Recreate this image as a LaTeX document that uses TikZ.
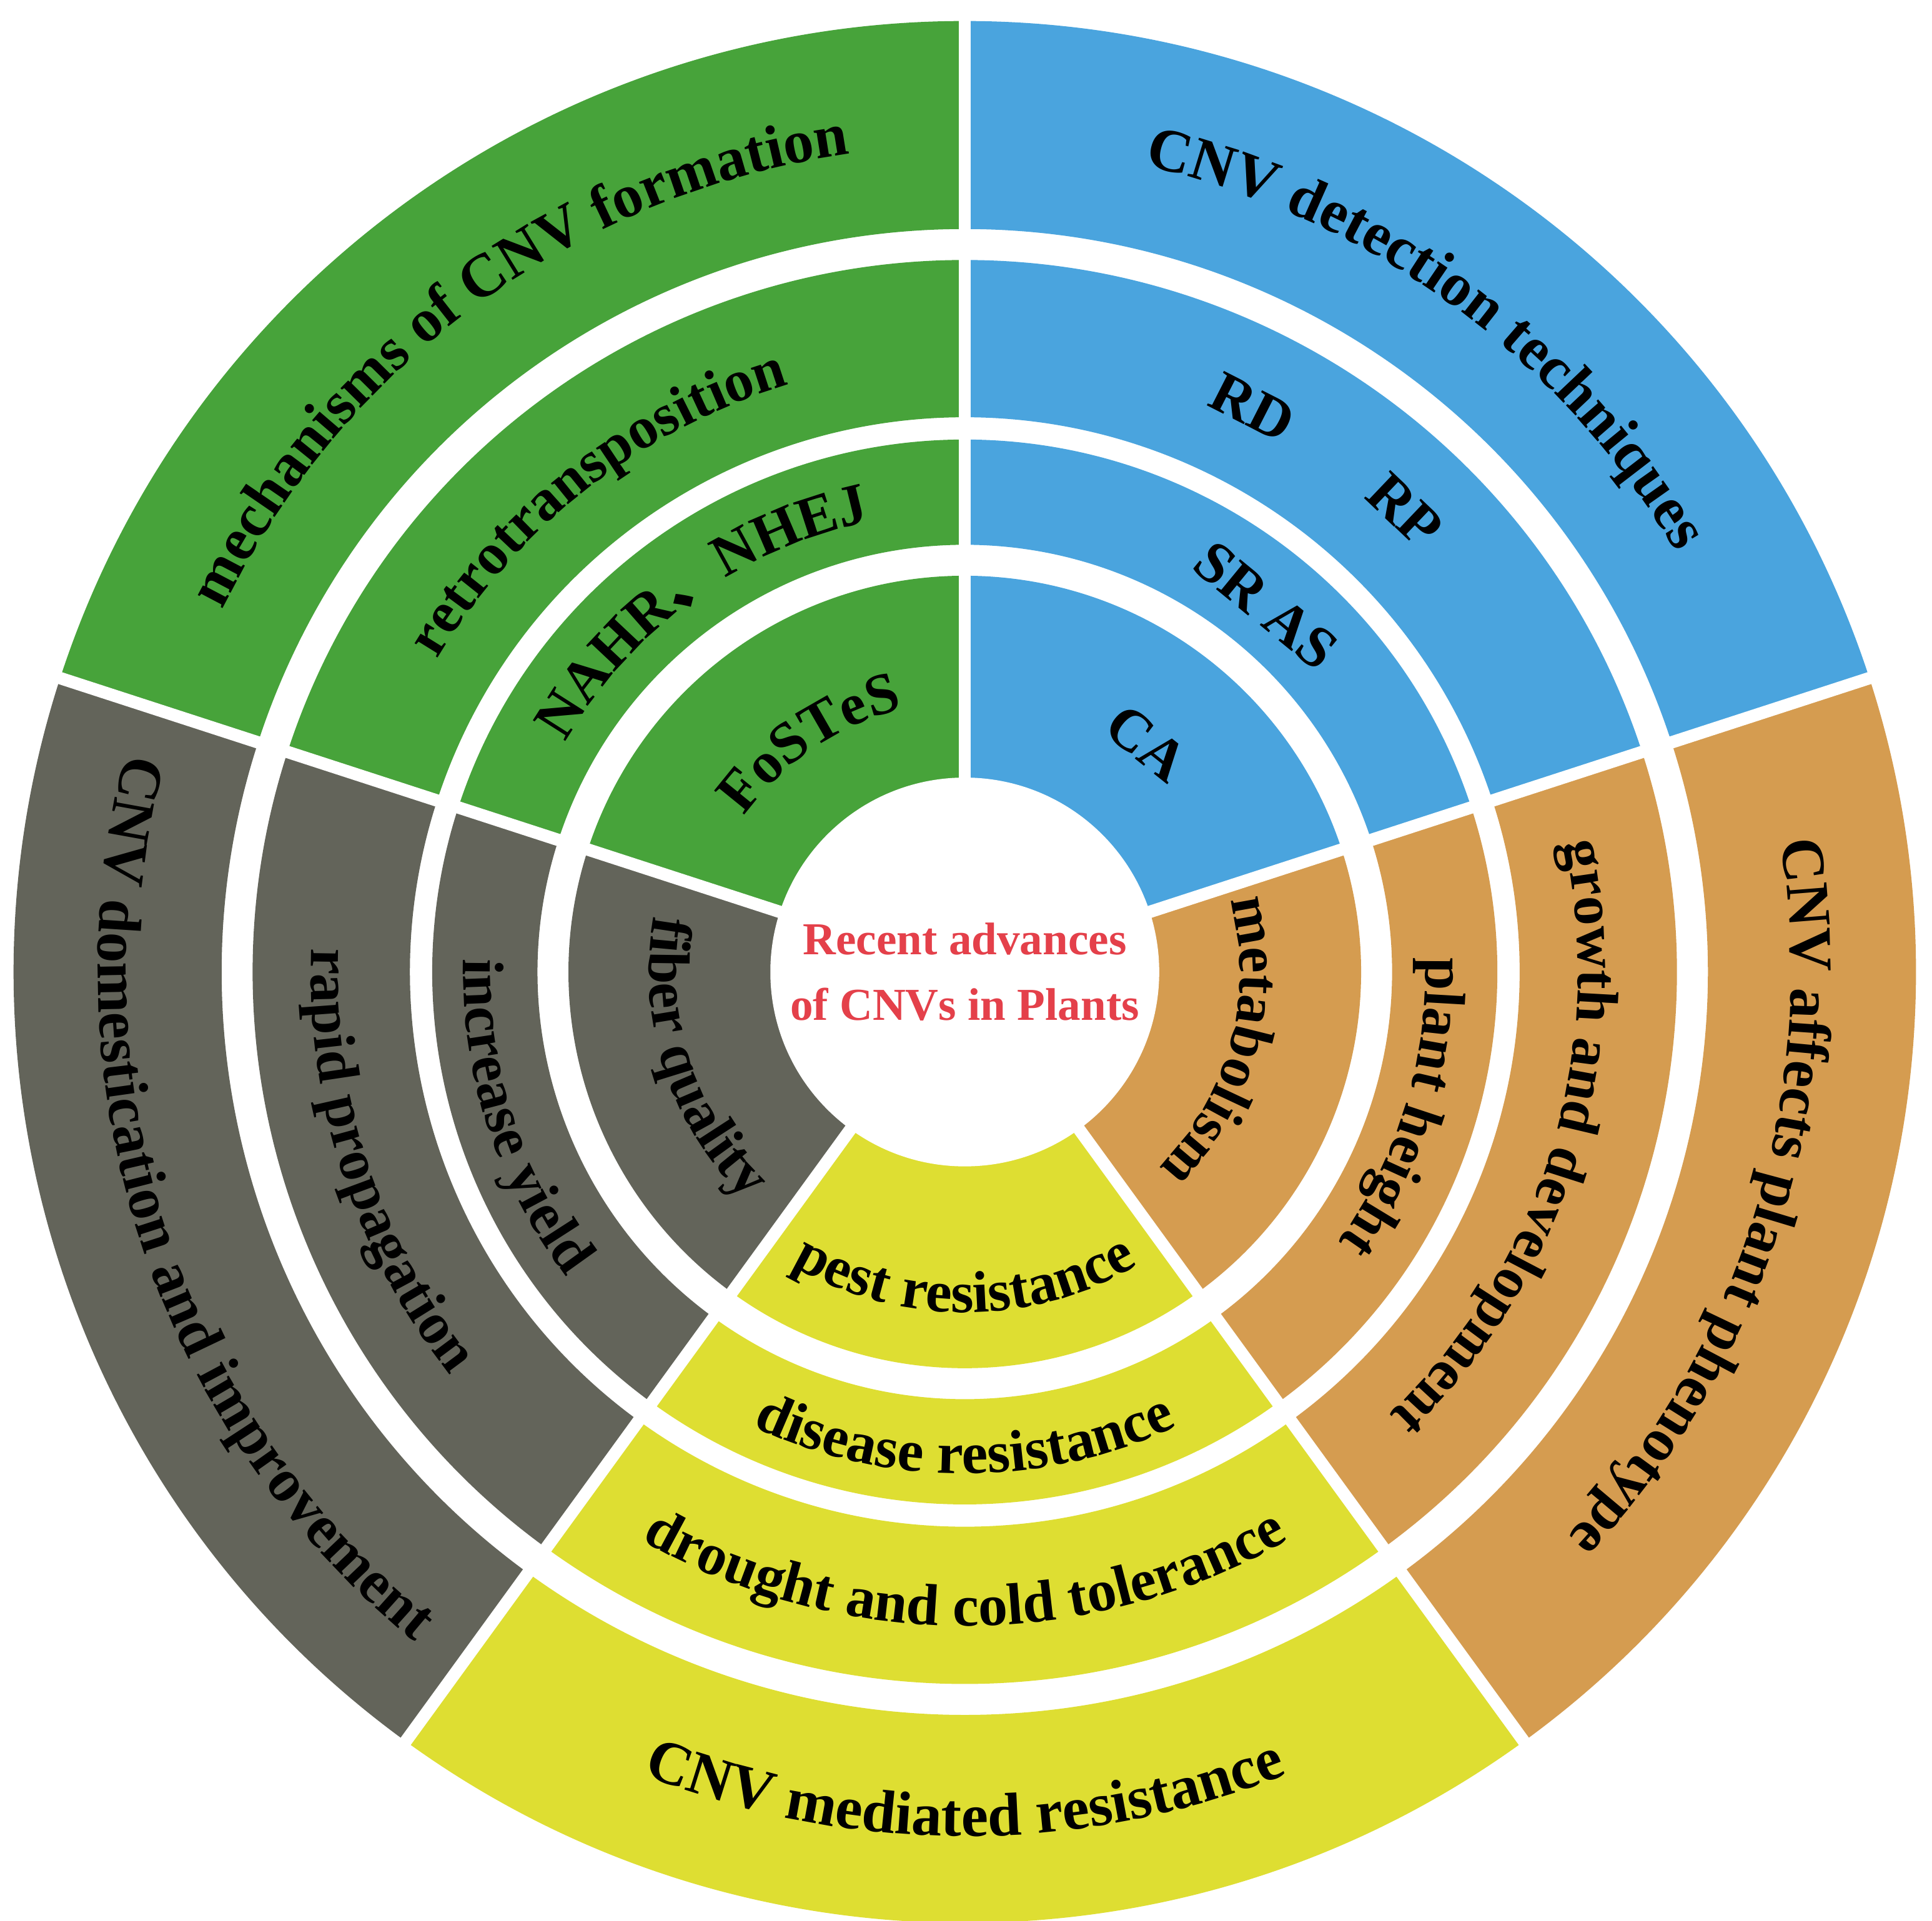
\documentclass[tikz,border=0pt]{standalone}
\usepackage{fontspec}
\setmainfont{Liberation Serif}
\newfontfamily\cjk{Noto Sans CJK SC}
\usetikzlibrary{decorations.text}
\definecolor{cgreen}{HTML}{47A33A}
\definecolor{cblue}{HTML}{4AA4DE}
\definecolor{corange}{HTML}{D59C50}
\definecolor{cgray}{HTML}{63645A}
\definecolor{cyellow}{HTML}{DEDE32}
\definecolor{cred}{HTML}{E4404A}
\newcommand{\annsec}[5]{% color, a1, a2, rin, rout
  \fill[#1] (#2:#5) arc[start angle=#2,end angle=#3,radius=#5cm] -- (#3:#4) arc[start angle=#3,end angle=#2,radius=#4cm] -- cycle;}
\newcommand{\cwtext}[4]{% angle, radius, size, text  (clockwise, tops outward)
  \path[decorate,decoration={text along path,text align=center,
    text={|\fontsize{#3}{#3}\selectfont\bfseries|#4}}]
    ({#1+35}:#2) arc[start angle={#1+35},end angle={#1-35},radius=#2cm];}
\newcommand{\ccwtext}[4]{% counterclockwise, tops inward
  \path[decorate,decoration={text along path,text align=center,
    text={|\fontsize{#3}{#3}\selectfont\bfseries|#4}}]
    ({#1-35}:#2) arc[start angle={#1-35},end angle={#1+35},radius=#2cm];}
\begin{document}
\begin{tikzpicture}
\useasboundingbox (0,0) rectangle (15.6,15.51);
\begin{scope}[shift={(7.79,7.66)}]
% rings
\foreach \c/\a/\b in {cblue/18/90, cgreen/90/162, cgray/162/234, cyellow/234/306, corange/306/378}{
  \annsec{\c}{\a}{\b}{6.00}{7.68}
  \annsec{\c}{\a}{\b}{4.48}{5.75}
  \annsec{\c}{\a}{\b}{3.45}{4.30}
  \annsec{\c}{\a}{\b}{1.50}{3.20}
}
\foreach \a in {18,90,162,234,306}
  \draw[white,line width=0.1cm] (0,0) -- (\a:7.9);
\fill[white] (0,0) circle[radius=1.57cm];
\node[text=cred,font=\fontsize{10.5}{15}\selectfont\bfseries,align=center] (center) at (0,0) {Recent advances\\of CNVs in Plants};
% green
\cwtext{126}{6.67}{14}{mechanisms of CNV formation}
\cwtext{128}{4.95}{13.5}{retrotransposition}
\path[decorate,decoration={text along path,text align=center,
    text={|\fontsize{13.5}{13.5}\selectfont\bfseries|NAHR|\cjk\fontsize{13.5}{13.5}\selectfont\bfseries|、|\fontsize{13.5}{13.5}\selectfont\bfseries|NHEJ}}]
    (161:3.72) arc[start angle=161,end angle=91,radius=3.72cm];
\cwtext{124}{2.18}{13.5}{FoSTeS}
% blue
\cwtext{54}{6.67}{14}{CNV detection techniques}
\node[font=\fontsize{13.5}{13.5}\selectfont\bfseries,rotate=-27] (rd) at (63:5.12) {RD};
\node[font=\fontsize{13.5}{13.5}\selectfont\bfseries,rotate=-43.6] (rp) at (46.4:5.15) {RP};
\node[font=\fontsize{13.5}{13.5}\selectfont\bfseries,rotate=-39.4] (sras) at (50.6:3.83) {SR AS};
\node[font=\fontsize{13.5}{13.5}\selectfont\bfseries,rotate=-38.5] (ca) at (51.5:2.36) {CA};
% orange
\cwtext{-17}{6.67}{14}{CNV affects plant phenotype}
\cwtext{-17}{4.95}{13.5}{growth and development}
\cwtext{-17}{3.72}{13.5}{plant height}
\cwtext{-15}{2.22}{13.5}{metabolism}
% gray
\ccwtext{198}{7.00}{14}{CNV domestication and improvement}
\ccwtext{198}{5.28}{13.5}{rapid propagation}
\ccwtext{198}{4.05}{13.5}{increase yield}
\ccwtext{198}{2.55}{13.5}{fiber quality}
% yellow
\ccwtext{270}{6.98}{14}{CNV mediated resistance}
\ccwtext{270}{5.28}{13.5}{drought and cold tolerance}
\ccwtext{270}{4.05}{13.5}{disease resistance}
\ccwtext{270}{2.75}{13.5}{pest resistance}
\end{scope}
\end{tikzpicture}
\end{document}
